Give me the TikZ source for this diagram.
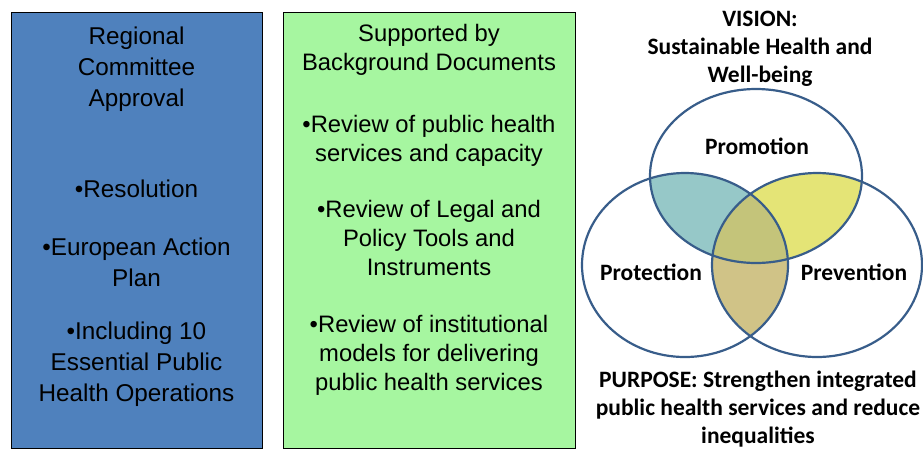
\documentclass[tikz,border=0pt]{standalone}
\usepackage{fontspec}
\setmainfont{Liberation Sans}
\newfontfamily\calib{Carlito}
\definecolor{boxblue}{RGB}{79,129,189}
\definecolor{boxgreen}{RGB}{166,246,160}
\definecolor{venline}{RGB}{56,93,138}
\definecolor{teal}{RGB}{150,200,200}
\definecolor{yel}{RGB}{228,228,118}
\definecolor{tan}{RGB}{208,195,135}
\definecolor{trip}{RGB}{196,196,122}
\begin{document}
\begin{tikzpicture}[x=1pt,y=-1pt,
  boxtxt/.style={align=center,font=\fontsize{24.3}{31}\selectfont,inner sep=0pt},
  greentxt/.style={align=center,font=\fontsize{23.8}{29}\selectfont,inner sep=0pt},
  venntxt/.style={align=center,font=\calib\bfseries\fontsize{23.5}{28}\selectfont,inner sep=0pt},
  vennline/.style={draw=venline,line width=2.2pt}]
\useasboundingbox (0,0) rectangle (923,448);
% boxes
\node[draw=black,fill=boxblue,line width=0.8pt,minimum width=251pt,minimum height=436pt,inner sep=0pt] (blue) at (136.5,230) {};
\node[draw=black,fill=boxgreen,line width=0.8pt,minimum width=292pt,minimum height=436pt,inner sep=0pt] (green) at (429,230) {};
% left box text
\node[boxtxt] (b1) at (136.5,69.5) {Regional\\Committee\\Approval};
\node[boxtxt] (b2) at (136.5,189) {•Resolution};
\node[boxtxt] (b3) at (136.5,262) {•European Action\\Plan};
\node[boxtxt] (b4) at (136.5,364) {•Including 10\\Essential Public\\Health Operations};
% green box text
\node[greentxt] (g1) at (429,50) {Supported by\\Background Documents};
\node[greentxt] (g2) at (429,140.5) {•Review of public health\\services and capacity};
\node[greentxt] (g3) at (429,238) {•Review of Legal and\\Policy Tools and\\Instruments};
\node[greentxt] (g4) at (429,355) {•Review of institutional\\models for delivering\\public health services};
% venn fills
\def\ctop{(756,176) ellipse [x radius=106, y radius=87]}
\def\cleft{(685,265) ellipse [x radius=103, y radius=92]}
\def\cright{(817,265) ellipse [x radius=105, y radius=92]}
\begin{scope}
  \clip \ctop; \fill[teal] \cleft;
\end{scope}
\begin{scope}
  \clip \ctop; \fill[yel] \cright;
\end{scope}
\begin{scope}
  \clip \cleft; \fill[tan] \cright;
\end{scope}
\begin{scope}
  \clip \ctop; \clip \cleft; \fill[trip] \cright;
\end{scope}
\draw[vennline] \ctop;
\draw[vennline] \cleft;
\draw[vennline] \cright;
% venn texts
\node[venntxt] (vis) at (760,49) {VISION:\\Sustainable Health and\\Well-being};
\node[venntxt] (prom) at (757,146) {Promotion};
\node[venntxt] (prot) at (651,272) {Protection};
\node[venntxt] (prev) at (854,272) {Prevention};
\node[venntxt] (purp) at (758,409) {PURPOSE: Strengthen integrated\\public health services and reduce\\inequalities};
\end{tikzpicture}
\end{document}
